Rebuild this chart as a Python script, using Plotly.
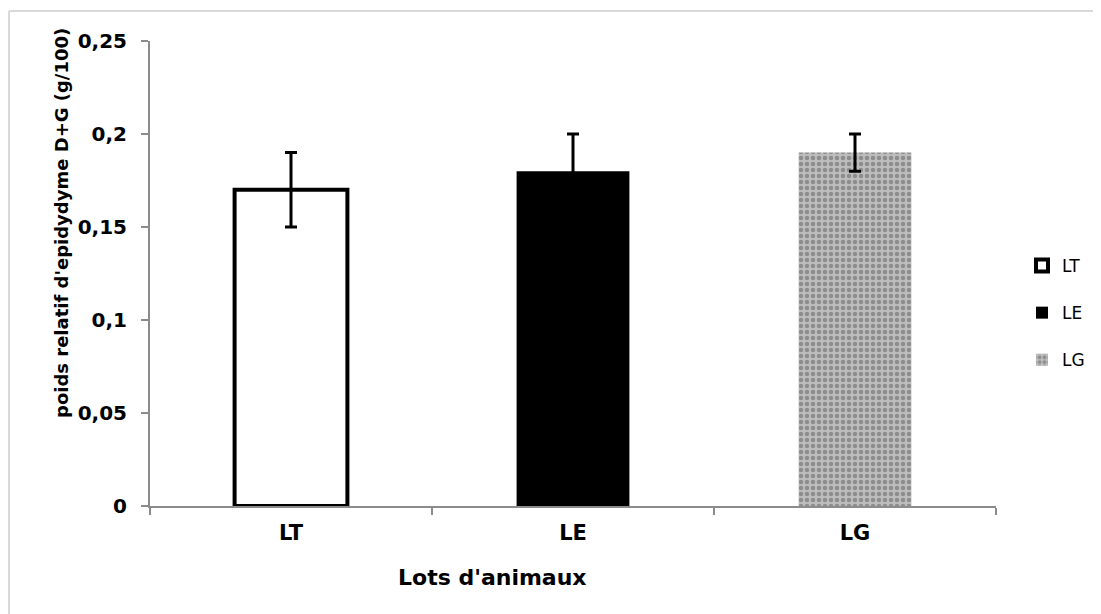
import plotly.graph_objects as go

categories = ["LT", "LE", "LG"]
values = [0.17, 0.18, 0.19]
errors = [0.02, 0.02, 0.01]
y_ticks = [0, 0.05, 0.1, 0.15, 0.2, 0.25]
y_tick_labels = ["0", "0,05", "0,1", "0,15", "0,2", "0,25"]

FONT = "DejaVu Sans"
W, H = 1093, 606
L, R, T, B = 142, 105, 33, 108
PW, PH = W - L - R, H - T - B


def px(xf):
    return (xf - L) / PW


def py(yf):
    return (T + PH - yf) / PH


fig = go.Figure()

styles = {
    "LT": dict(color="white", line=dict(color="black", width=4)),
    "LE": dict(color="black", line=dict(color="black", width=0)),
    "LG": dict(color="#b0b0b0", line=dict(color="#b0b0b0", width=0),
               pattern=dict(shape=".", bgcolor="#bdbdbd", fgcolor="#5e5e5e",
                            size=6, solidity=0.45)),
}

for cat, v, e in zip(categories, values, errors):
    fig.add_trace(go.Bar(
        x=[cat], y=[v], name=cat, width=0.4,
        marker=styles[cat],
        error_y=dict(type="data", array=[e], color="black", thickness=3, width=6),
        legendgroup=cat,
    ))

fig.update_layout(
    width=W, height=H,
    margin=dict(l=L, r=R, t=T, b=B),
    paper_bgcolor="white", plot_bgcolor="white",
    barmode="overlay",
    separators=", ",
    font=dict(family=FONT, color="black"),
    showlegend=True,
    legend=dict(xref="container", yref="container", x=1014 / W, y=1 - 240 / H,
                xanchor="left", yanchor="top",
                font=dict(family=FONT, size=17, color="black"),
                tracegroupgap=22, itemwidth=30),
    xaxis=dict(
        categoryorder="array", categoryarray=categories,
        showline=True, linecolor="#8c8c8c", linewidth=2,
        ticks="outside", tickson="boundaries", ticklen=7, tickcolor="#8c8c8c", tickwidth=2,
        tickfont=dict(family=FONT, size=21, weight="bold", color="black"), ticklabelstandoff=7,
        showgrid=False,
    ),
    yaxis=dict(
        range=[0, 0.25], tickvals=y_ticks, ticktext=y_tick_labels,
        showline=True, linecolor="#8c8c8c", linewidth=2,
        ticks="outside", ticklen=7, tickcolor="#8c8c8c", tickwidth=2,
        tickfont=dict(family=FONT, size=20, weight="bold", color="black"), ticklabelstandoff=10,
        showgrid=False, zeroline=False,
    ),
    annotations=[
        dict(text="poids relatif d'epidydyme D+G (g/100)", textangle=-90,
             xref="paper", yref="paper", x=px(54), y=py(215),
             xanchor="center", yanchor="middle", showarrow=False,
             font=dict(family=FONT, size=18, weight="bold", color="black")),
        dict(text="Lots d'animaux",
             xref="paper", yref="paper", x=px(484), y=py(569),
             xanchor="center", yanchor="middle", showarrow=False,
             font=dict(family=FONT, size=22, weight="bold", color="black")),
    ],
)

# light outer frame (top and left edges visible)
fig.add_shape(type="line", xref="paper", yref="paper", x0=px(1), x1=px(W),
              y0=py(3), y1=py(3), line=dict(color="#d9d9d9", width=2))
fig.add_shape(type="line", xref="paper", yref="paper", x0=px(1), x1=px(1),
              y0=py(3), y1=py(H), line=dict(color="#d9d9d9", width=2))

fig.write_html("out.html")
